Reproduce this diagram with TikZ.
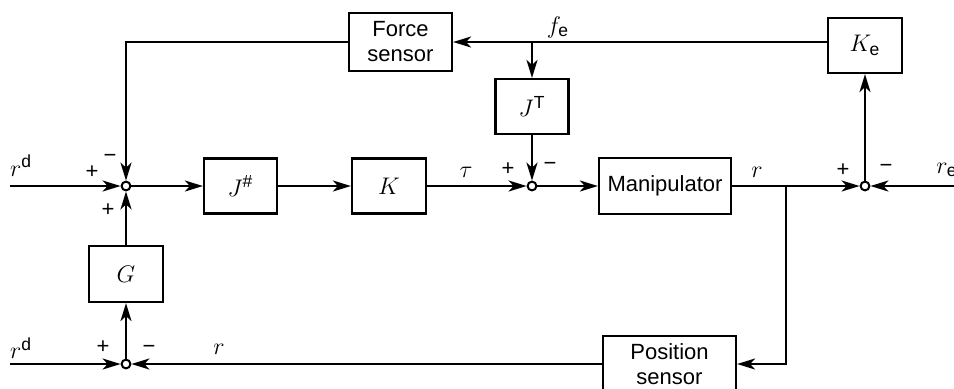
\documentclass[tikz,border=0pt]{standalone}
\usepackage{amsmath}
\usepackage{fontspec}
\setmainfont{Liberation Sans}
\usetikzlibrary{arrows.meta}
\begin{document}
\begin{tikzpicture}[x=0.5pt,y=-0.5pt,
  every node/.style={font=\fontsize{11}{12.5}\selectfont},
  mth/.style={font=\fontsize{12.5}{14}\selectfont},
  blk/.style={draw, line width=1.1pt, inner sep=0pt, align=center},
  sum/.style={circle, draw, fill=white, line width=1pt, inner sep=0pt, minimum size=4.4pt},
  sig/.style={line width=1.1pt, -{Stealth[length=9pt,width=5.5pt,inset=2.5pt]}},
  wire/.style={line width=1.1pt},
  lbl/.style={inner sep=0pt}]
\useasboundingbox (0,0) rectangle (954,388);

% blocks
\node[blk, minimum width=51.5pt, minimum height=29pt] (fs)  at (400.5,42)  {Force\\sensor};
\node[blk, mth, minimum width=36.5pt, minimum height=27.5pt] (jh) at (240.5,186) {$J^{\text{\#}}$};
\node[blk, mth, minimum width=37pt,   minimum height=27.5pt] (k)  at (389,186)   {$K$};
\node[blk, mth, minimum width=36.5pt, minimum height=27.5pt] (jt) at (532,106.5) {$J^{\text{T}}$};
\node[blk, minimum width=66pt,   minimum height=28pt]   (man) at (665,186)  {Manipulator};
\node[blk, mth, minimum width=37pt,   minimum height=27.5pt] (ke) at (865,45.5)  {$K_{\text{e}}$};
\node[blk, mth, minimum width=37pt,   minimum height=28pt]   (g)  at (126,274)   {$G$};
\node[blk, minimum width=66.5pt, minimum height=28pt]   (ps) at (669.5,364) {Position\\sensor};

% summing junctions
\node[sum] (s1) at (126,186) {};
\node[sum] (s2) at (532,186) {};
\node[sum] (s3) at (865,186) {};
\node[sum] (s4) at (126,364) {};

% free ends and branch points
\coordinate (in1) at (10,186);
\coordinate (in2) at (10,364);
\coordinate (re)  at (960,186);
\coordinate (b1)  at (786,186);
\coordinate (fj)  at (532,42);

% forward path
\draw[sig] (in1) -- (s1);
\draw[sig] (s1) -- (jh);
\draw[sig] (jh) -- (k);
\draw[sig] (k) -- (s2);
\draw[sig] (s2) -- (man);
\draw[wire] (man) -- (b1);
\draw[sig] (b1) -- (s3);
\draw[sig] (re) -- (s3);

% force loop
\draw[sig] (s3) -- (ke);
\draw[sig] (ke.west |- fs.east) -- (fs.east);
\draw[sig] (fj) -- (jt);
\draw[sig] (jt) -- (s2);
\draw[sig] (fs.west) -| (s1);

% position loop
\draw[sig] (b1) |- (ps.east);
\draw[sig] (ps) -- (s4);
\draw[sig] (in2) -- (s4);
\draw[sig] (s4) -- (g);
\draw[sig] (g) -- (s1);

% signal labels
\node[lbl, mth] at (21,166) {$r^{\text{d}}$};
\node[lbl, mth] at (21,348) {$r^{\text{d}}$};
\node[lbl, mth] at (466,172) {$\tau$};
\node[lbl, mth] at (558,27) {$f_{\text{e}}$};
\node[lbl, mth] at (757,172) {$r$};
\node[lbl, mth] at (219,349) {$r$};
\node[lbl, mth, anchor=west] at (936,170) {$r_{\text{e}}$};

% signs
\node[lbl] at (92,172) {+};
\node[lbl] at (110,158) {−};
\node[lbl] at (108,210) {+};
\node[lbl] at (508,169) {+};
\node[lbl] at (550,166) {−};
\node[lbl] at (843,170) {+};
\node[lbl] at (886,168) {−};
\node[lbl] at (103,347) {+};
\node[lbl] at (149,349) {−};
\end{tikzpicture}
\end{document}
